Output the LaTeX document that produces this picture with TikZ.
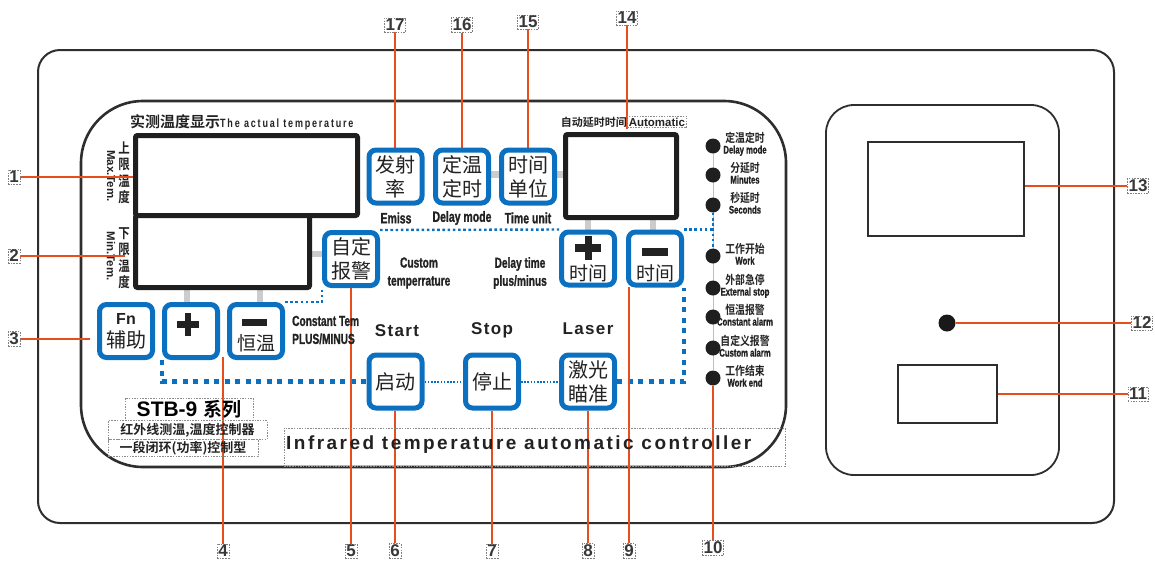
\documentclass[tikz,border=0pt]{standalone}
\usepackage{fontspec}
\setmainfont{Liberation Sans}
\newfontfamily\cjk{Noto Sans CJK SC}
\newfontfamily\cjkb{Noto Sans CJK SC Bold}
\newfontfamily\cjkn{Noto Sans CJK SC Bold}[FakeStretch=0.82]
\newfontfamily\narrow{Liberation Sans Bold}[FakeStretch=0.7,FakeBold=1.2]
\newfontfamily\narrowsp{Liberation Sans Bold}[FakeStretch=0.75,LetterSpace=15]
\newfontfamily\widesp{Liberation Sans Bold}[LetterSpace=13]
\newfontfamily\midsp{Liberation Sans Bold}[LetterSpace=8]
\usetikzlibrary{calc}
\pgfdeclarelayer{back}
\pgfdeclarelayer{mid}
\pgfsetlayers{back,mid,main}
\definecolor{bblue}{RGB}{12,112,192}
\definecolor{leadc}{RGB}{232,78,28}
\definecolor{txt}{RGB}{34,34,34}
\begin{document}
\begin{tikzpicture}[x=1pt,y=-1pt,
 frame/.style={draw=black!82, line width=2pt},
 btn/.style={draw=bblue, line width=5pt, fill=white, rounded corners=7pt, minimum width=53pt, minimum height=53pt, inner sep=0pt, align=center, text=txt, font=\cjk\fontsize{20}{24}\selectfont},
 disp/.style={draw=black!88, line width=5pt, rounded corners=2pt, inner sep=0pt, fill=white},
 screen/.style={draw=black!82, line width=2pt, inner sep=0pt, fill=white},
 leadline/.style={draw=leadc, line width=2.2pt},
 num/.style={draw=black!50, dash pattern=on 1.5pt off 1.2pt, line width=0.6pt, inner sep=1.2pt, text=black!78, font=\bfseries\fontsize{17}{17}\selectfont},
 dashbox/.style={draw=black!45, dash pattern=on 1.5pt off 1.2pt, line width=0.6pt, inner sep=0pt},
 dotA/.style={draw=bblue, line width=2.4pt, dash pattern=on 2.6pt off 2.6pt},
 dotB/.style={draw=bblue, line width=4.5pt, dash pattern=on 5pt off 5.5pt},
 dotC/.style={draw=bblue, line width=2pt, dash pattern=on 1.6pt off 1.6pt},
 stub/.style={fill=black!20, draw=none},
 ind/.style={circle, fill=black!88, minimum size=15pt, inner sep=0pt},
 indlbl/.style={align=center, inner sep=0pt, text=txt, font=\fontsize{11}{11}\selectfont},
 nar/.style={font=\narrow\fontsize{14.5}{18}\selectfont, text=txt, inner sep=0pt, align=center},
 eng/.style={font=\midsp\fontsize{17}{17}\selectfont, text=txt, inner sep=0pt},
 cjkt/.style={font=\cjk\fontsize{19}{19}\selectfont, text=txt, inner sep=0pt},
 glyph/.style={fill=txt}
]
\useasboundingbox (0,0) rectangle (1155,563);

% ---------- frames ----------
\begin{pgfonlayer}{back}
\draw[frame, rounded corners=22pt] (38,50) rectangle (1114,523);
\draw[frame, line width=2.6pt, rounded corners=62pt] (81,101) rectangle (786,467);
\draw[frame, line width=1.8pt, rounded corners=28pt] (826,105) rectangle (1059,475);
% side texts
\node[font=\cjkn\fontsize{14}{16.5}\selectfont, align=center, inner sep=0pt, text=txt] (tU) at (124,173) {上\\限\\温\\度};
\node[rotate=-90, font=\bfseries\fontsize{11.5}{11.5}\selectfont, inner sep=0pt, text=txt] (tUe) at (111,176) {Max.Tem.};
\node[font=\cjkn\fontsize{14}{16.5}\selectfont, align=center, inner sep=0pt, text=txt] (tL) at (124,258) {下\\限\\温\\度};
\node[rotate=-90, font=\bfseries\fontsize{11.5}{11.5}\selectfont, inner sep=0pt, text=txt] (tLe) at (111,256) {Min.Tem.};
\end{pgfonlayer}

% ---------- displays ----------
\node[disp, minimum width=222pt, minimum height=80pt] (dU) at (246.5,175.5) {};
\node[disp, minimum width=174pt, minimum height=72pt] (dL) at (222.5,251.5) {};
\node[disp, minimum width=111pt, minimum height=83pt] (dA) at (621,176) {};

% ---------- right panel ----------
\node[screen, minimum width=156pt, minimum height=94pt] (s13) at (945.5,188.5) {};
\node[circle, fill=black!90, minimum size=17pt, inner sep=0pt] (d12) at (947,323) {};
\node[screen, minimum width=99pt, minimum height=58pt] (s11) at (947,393.5) {};

% ---------- buttons ----------
\node[btn] (b17) at (395.5,176.5) {发射\\率};
\node[btn] (b16) at (462,176.5) {定温\\定时};
\node[btn] (b15) at (528,176.5) {时间\\单位};
\node[btn] (b5) at (351,259) {自定\\报警};
\node[btn] (bp) at (588,258.5) {};
\node[btn] (bm) at (655,258.5) {};
\node[btn] (bfn) at (126,331) {{\rmfamily\bfseries\fontsize{16}{16}\selectfont Fn}\\[-1pt]辅助};
\node[btn] (bplus) at (191,331) {};
\node[btn] (bminus) at (256,331) {};
\node[btn] (b6) at (395.5,381.5) {启动};
\node[btn] (b7) at (492,381.5) {停止};
\node[btn] (b8) at (588,381.5) {激光\\瞄准};

% glyphs on buttons
\fill[glyph] (575,244) rectangle (601,252);
\fill[glyph] (584.5,236) rectangle (591.5,260);
\node[cjkt] (tp) at (588,273) {时间};
\fill[glyph] (642,248) rectangle (668,256);
\node[cjkt] (tm) at (655,273) {时间};
\fill[glyph] (177,320.5) rectangle (199,327.5);
\fill[glyph] (185,312.5) rectangle (191,335.5);
\fill[glyph] (242,319) rectangle (267,326);
\node[cjkt] (th) at (256,343) {恒温};

% ---------- indicators ----------
\foreach \i/\yy/\zh/\en in {1/146/定温定时/Delay mode, 2/175/分延时/Minutes, 3/205/秒延时/Seconds, 4/256/工作开始/Work, 5/288/外部急停/External stop, 6/317/恒温报警/Constant alarm, 7/348/自定义报警/Custom alarm, 8/378/工作结束/Work end}{
  \node[ind] (d\i) at (713,\yy) {};
  \node[indlbl] (ti\i) at (745,\yy-2) {{\cjkn\fontsize{12}{12}\selectfont \zh}\\{\narrow\fontsize{11}{11}\selectfont \en}};
}

% ---------- texts ----------
\node[anchor=west, inner sep=0pt, text=txt] (title) at (130,122) {{\cjkb\fontsize{15}{15}\selectfont 实测温度显示}{\narrowsp\fontsize{12}{12}\selectfont The actual temperature}};
\node[anchor=east, inner sep=0pt, text=txt, font=\cjkb\fontsize{11}{11}\selectfont] (autozh) at (627,122) {自动延时时间};
\node[draw=black!45, dash pattern=on 1.5pt off 1.2pt, line width=0.6pt, anchor=west, inner sep=1.5pt, text=txt, font=\bfseries\fontsize{11.5}{11.5}\selectfont] (auto) at (627,122) {Automatic};
\node[nar, font=\narrow\fontsize{15}{15}\selectfont] (e17) at (396,218) {Emiss};
\node[nar, font=\narrow\fontsize{15}{15}\selectfont] (e16) at (462,218) {Delay mode};
\node[nar, font=\narrow\fontsize{15}{15}\selectfont] (e15) at (528,218) {Time unit};
\node[nar] (e5) at (419,273) {Custom\\temperrature};
\node[nar] (e9) at (520,273) {Delay time\\plus/minus};
\node[nar, align=left, anchor=west] (e4) at (292,330) {Constant Tem\\PLUS/MINUS};
\node[eng] (e6) at (397,331) {Start};
\node[eng] (e7) at (492,330) {Stop};
\node[eng] (e8) at (588,329) {Laser};

\node[dashbox, minimum width=128pt, minimum height=22pt] (stb) at (189,409) {{\bfseries\fontsize{21}{21}\selectfont STB-9 }{\cjkb\fontsize{19}{19}\selectfont 系列}};
\node[dashbox, minimum width=159pt, minimum height=19pt, font=\cjkb\fontsize{13}{13}\selectfont, text=txt] (sub1) at (187.5,430) {红外线测温,温度控制器};
\node[dashbox, minimum width=150pt, minimum height=17pt, font=\cjkb\fontsize{13}{13}\selectfont, text=txt] (sub2) at (183,448) {一段闭环(功率)控制型};
\node[dashbox, minimum width=501pt, minimum height=38pt] (infbox) at (534.5,447) {};
\node[anchor=west, inner sep=0pt, text=txt, font=\widesp\fontsize{19}{19}\selectfont] (inf) at (286,445) {Infrared temperature automatic controller};

% ---------- number labels ----------
\node[num] (l1) at (14,177) {1};
\node[num] (l2) at (14,256) {2};
\node[num] (l3) at (14,339) {3};
\node[num] (l4) at (223,551) {4};
\node[num] (l5) at (351,551) {5};
\node[num] (l6) at (395,551) {6};
\node[num] (l7) at (492,551) {7};
\node[num] (l8) at (588,551) {8};
\node[num] (l9) at (629,551) {9};
\node[num] (l10) at (713,548) {10};
\node[num] (l11) at (1138,394) {11};
\node[num] (l12) at (1142,323) {12};
\node[num] (l13) at (1138,186) {13};
\node[num] (l14) at (627,18) {14};
\node[num] (l15) at (528,22) {15};
\node[num] (l16) at (462,25) {16};
\node[num] (l17) at (395,25) {17};

\coordinate (c2) at (125,256);
\coordinate (c4) at (223,357);
\coordinate (c9) at (629,287);
\coordinate (c14) at (627,129);

% ---------- connectors, dotted links, stubs ----------
\begin{pgfonlayer}{mid}
\fill[stub] (184,289) rectangle (190,303);
\fill[stub] (257,289) rectangle (263,303);
\fill[stub] (585,219) rectangle (591,231);
\fill[stub] (650,219) rectangle (656,231);
\fill[stub] (490,171) rectangle (500,178);
\fill[stub] (556,171) rectangle (564,178);
\fill[stub] (311,251) rectangle (323,257);
\draw[black!25, line width=1pt] (d1) -- (d8);

\draw[dotA] (b5.north east) -- (bp.north west);
\draw[dotA] (bm.north east) -- (bm.north east -| d3);
\draw[dotA] (d3) -- (d4);
\draw[dotA] (bminus.north east) -| (b5.south west);
\draw[dotB] (bplus.south west) |- (b6.west);
\draw[dotC] (b6.east) -- (b7.west);
\draw[dotC] (b7.east) -- (b8.west);
\draw[dotB] (b8.east) -| (bm.south east);

\draw[leadline] (l1.east) -- (l1.east -| dU.west);
\draw[leadline] (l2.east) -- (l2.east -| c2);
\draw[leadline, shorten >=7.5pt] (l3.east) -- (l3.east -| bfn.west);
\draw[leadline] (c4) -- (c4 |- l4.north);
\draw[leadline] (l5.north |- b5.south) -- (l5.north);
\draw[leadline] (l6.north |- b6.south) -- (l6.north);
\draw[leadline] (l7.north |- b7.south) -- (l7.north);
\draw[leadline] (l8.north |- b8.south) -- (l8.north);
\draw[leadline] (c9) -- (c9 |- l9.north);
\draw[leadline] (d8) -- (d8 |- l10.north);
\draw[leadline] (l11.west -| s11.east) -- (l11.west);
\draw[leadline] (d12) -- (l12.west);
\draw[leadline] (l13.west -| s13.east) -- (l13.west);
\draw[leadline] (l14.south) -- (c14);
\draw[leadline] (l15.south) -- (l15.south |- b15.north);
\draw[leadline] (l16.south) -- (l16.south |- b16.north);
\draw[leadline] (l17.south) -- (l17.south |- b17.north);
\end{pgfonlayer}
\end{tikzpicture}
\end{document}
